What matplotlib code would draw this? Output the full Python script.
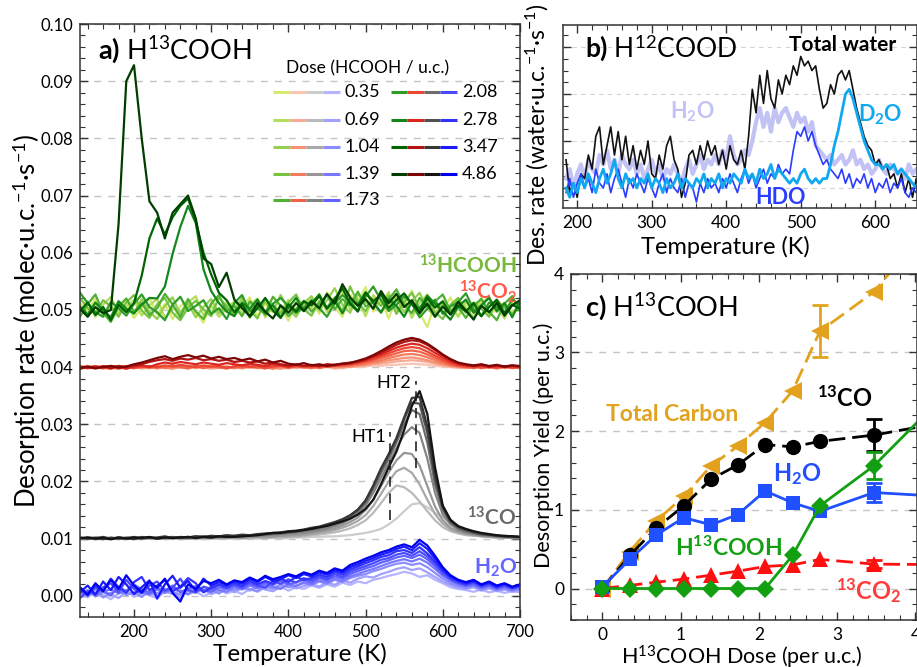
import numpy as np
import matplotlib
matplotlib.use("Agg")
import matplotlib.pyplot as plt
from matplotlib.ticker import MultipleLocator, FormatStrFormatter

plt.rcParams['font.family'] = ['Lato', 'DejaVu Sans']
plt.rcParams['mathtext.fontset'] = 'custom'
plt.rcParams['mathtext.rm'] = 'Lato'
plt.rcParams['mathtext.it'] = 'Lato:italic'
plt.rcParams['mathtext.bf'] = 'Lato:bold'

# ---------------- panel a: TPD traces, 130..700 K every 10 K, values in 1e-4 molec/u.c./s (offsets included)
doses = ["0.35", "0.69", "1.04", "1.39", "1.73", "2.08", "2.78", "3.47", "4.86"]

hcooh_a = [
    [512, 498, 520, 489, 507, 495, 516, 486, 503, 521, 492, 510, 484, 506, 518, 495, 478, 509, 497, 515,
     490, 503, 522, 487, 511, 496, 505, 481, 514, 499, 520, 493, 531, 505, 488, 526, 512, 540, 497, 518,
     485, 523, 508, 534, 495, 470, 512, 499, 522, 487, 508, 495, 516, 490, 503, 512, 497, 505],
    [497, 515, 488, 509, 523, 494, 505, 517, 490, 508, 519, 486, 502, 496, 513, 524, 491, 507, 488, 502,
     515, 494, 509, 520, 487, 505, 498, 517, 492, 511, 503, 528, 496, 515, 534, 501, 520, 489, 526, 510,
     531, 498, 519, 486, 512, 527, 494, 516, 503, 489, 514, 499, 521, 493, 508, 485, 512, 500],
    [505, 489, 512, 496, 484, 515, 501, 493, 519, 497, 484, 507, 522, 493, 511, 487, 505, 519, 494, 510,
     498, 521, 486, 505, 513, 497, 526, 502, 488, 512, 524, 499, 517, 538, 509, 495, 528, 514, 503, 532,
     507, 521, 496, 515, 530, 503, 488, 511, 494, 519, 502, 487, 510, 523, 496, 507, 491, 512],
    [521, 503, 494, 517, 506, 488, 513, 526, 499, 486, 510, 521, 495, 482, 504, 516, 501, 489, 522, 506,
     491, 512, 500, 485, 519, 508, 494, 513, 527, 501, 490, 516, 505, 522, 497, 541, 512, 498, 519, 507,
     525, 493, 514, 530, 502, 517, 496, 484, 509, 521, 495, 513, 502, 488, 517, 504, 493, 506],
    [488, 510, 527, 495, 479, 506, 520, 497, 512, 491, 503, 528, 510, 487, 519, 497, 484, 511, 526, 498,
     507, 489, 515, 502, 494, 523, 507, 489, 502, 516, 497, 511, 526, 501, 519, 508, 532, 506, 513, 495,
     518, 536, 509, 494, 521, 506, 515, 527, 498, 505, 486, 508, 519, 497, 482, 511, 524, 498],
    [530, 512, 496, 488, 514, 503, 490, 511, 527, 505, 496, 482, 509, 523, 498, 507, 517, 493, 503, 484,
     512, 526, 497, 509, 492, 511, 521, 506, 495, 504, 517, 503, 488, 512, 526, 514, 499, 523, 541, 517,
     498, 509, 524, 511, 487, 502, 518, 493, 506, 514, 529, 501, 489, 513, 505, 496, 518, 509],
    [506, 492, 513, 499, 487, 515, 502, 494, 509, 521, 520, 541, 598, 645, 682, 652, 571, 533, 512, 497,
     489, 513, 502, 518, 496, 509, 487, 504, 521, 498, 512, 527, 503, 516, 494, 520, 509, 531, 512, 496,
     519, 507, 488, 514, 502, 525, 511, 497, 483, 506, 518, 495, 508, 521, 498, 512, 487, 515],
    [498, 513, 491, 505, 482, 509, 496, 512, 560, 625, 660, 632, 662, 682, 695, 655, 600, 562, 530, 517,
     496, 510, 488, 503, 521, 499, 486, 510, 497, 515, 508, 524, 502, 519, 538, 511, 497, 530, 515, 527,
     503, 517, 529, 510, 496, 521, 504, 515, 492, 508, 497, 512, 489, 505, 518, 494, 509, 502],
    [502, 488, 505, 494, 500, 650, 900, 928, 800, 690, 670, 625, 670, 685, 700, 660, 590, 580, 540, 565,
     518, 503, 489, 512, 497, 485, 508, 495, 512, 498, 515, 503, 528, 511, 545, 522, 507, 519, 502, 533,
     512, 528, 505, 517, 494, 511, 488, 506, 492, 514, 499, 483, 507, 496, 512, 490, 508, 517],
]

co2_a = [
    [398, 401, 397, 400, 402, 398, 399, 401, 397, 400, 399, 402, 398, 400, 397, 401, 399, 398, 402, 399,
     400, 397, 401, 399, 402, 398, 400, 397, 401, 399, 398, 401, 400, 397, 399, 402, 400, 401, 403, 402,
     404, 404, 405, 406, 405, 404, 402, 401, 400, 398, 399, 401, 398, 400, 397, 399, 401, 398],
    [401, 398, 400, 397, 401, 399, 402, 398, 400, 401, 397, 400, 402, 399, 398, 401, 400, 397, 399, 402,
     398, 401, 399, 400, 397, 402, 399, 401, 398, 400, 401, 399, 402, 400, 398, 401, 402, 403, 405, 406,
     408, 410, 411, 412, 411, 409, 406, 403, 401, 400, 398, 400, 401, 399, 402, 398, 400, 399],
    [399, 402, 398, 401, 399, 397, 400, 402, 399, 398, 401, 399, 397, 400, 402, 398, 401, 399, 400, 397,
     402, 399, 400, 398, 401, 399, 397, 400, 402, 399, 400, 398, 401, 399, 402, 400, 403, 404, 407, 409,
     412, 414, 416, 417, 415, 412, 408, 405, 402, 401, 399, 401, 398, 400, 399, 401, 398, 400],
    [402, 399, 401, 398, 400, 402, 398, 400, 401, 399, 402, 398, 400, 401, 399, 402, 398, 401, 399, 400,
     398, 401, 402, 399, 400, 397, 401, 399, 402, 400, 398, 401, 400, 402, 401, 403, 404, 406, 409, 412,
     416, 419, 422, 423, 421, 417, 412, 407, 403, 401, 400, 398, 401, 399, 402, 399, 400, 398],
    [398, 400, 402, 399, 397, 401, 400, 398, 402, 400, 399, 401, 403, 400, 398, 402, 399, 401, 400, 398,
     401, 399, 402, 400, 398, 401, 402, 399, 401, 400, 402, 399, 401, 403, 402, 404, 406, 409, 412, 416,
     420, 424, 428, 429, 427, 422, 416, 410, 405, 402, 401, 399, 402, 400, 398, 401, 399, 401],
    [401, 399, 398, 402, 400, 398, 401, 399, 400, 402, 400, 403, 401, 404, 402, 400, 403, 401, 402, 399,
     401, 403, 400, 402, 399, 401, 403, 400, 402, 401, 400, 403, 401, 402, 404, 405, 407, 410, 414, 419,
     424, 429, 433, 435, 433, 427, 420, 413, 407, 403, 401, 402, 399, 401, 400, 402, 399, 400],
    [400, 398, 401, 399, 402, 400, 397, 401, 403, 400, 405, 408, 406, 409, 407, 405, 408, 406, 404, 407,
     405, 403, 406, 404, 402, 405, 403, 401, 404, 402, 403, 401, 404, 403, 405, 406, 409, 412, 417, 422,
     428, 434, 438, 441, 439, 433, 425, 417, 410, 405, 403, 401, 403, 400, 402, 401, 403, 400],
    [397, 400, 399, 401, 398, 402, 400, 403, 405, 409, 412, 414, 411, 415, 413, 416, 412, 414, 411, 413,
     409, 411, 408, 410, 406, 408, 405, 403, 405, 402, 404, 402, 405, 404, 406, 408, 410, 414, 419, 425,
     432, 439, 444, 447, 445, 439, 430, 421, 413, 407, 404, 402, 404, 401, 403, 400, 402, 401],
    [399, 401, 398, 400, 402, 399, 401, 405, 408, 412, 416, 419, 414, 418, 421, 417, 420, 415, 418, 414,
     416, 412, 415, 410, 413, 408, 411, 406, 404, 407, 403, 405, 402, 404, 406, 407, 411, 415, 421, 428,
     436, 443, 448, 451, 448, 441, 432, 422, 414, 408, 405, 403, 405, 402, 404, 401, 403, 402],
]

co_a = [
    [100, 99, 101, 100, 99, 100, 101, 99, 100, 100, 101, 99, 100, 100, 101, 100, 99, 100, 101, 100,
     100, 101, 100, 100, 101, 101, 100, 101, 102, 102, 103, 103, 104, 104, 105, 106, 108, 110, 113, 117,
     125, 135, 148, 160, 162, 155, 145, 137, 127, 119, 113, 109, 106, 104, 103, 102, 101, 101],
    [101, 100, 99, 100, 101, 100, 99, 101, 100, 101, 100, 100, 101, 99, 100, 101, 100, 101, 100, 101,
     101, 100, 101, 102, 101, 102, 102, 103, 103, 104, 106, 107, 109, 111, 114, 118, 124, 132, 145, 162,
     180, 193, 190, 180, 165, 148, 132, 120, 113, 109, 106, 105, 104, 103, 102, 102, 101, 101],
    [100, 101, 100, 99, 101, 100, 101, 100, 99, 101, 100, 101, 100, 101, 101, 100, 102, 101, 101, 102,
     102, 101, 102, 103, 102, 103, 104, 104, 105, 106, 108, 110, 112, 115, 119, 124, 131, 141, 157, 178,
     200, 218, 224, 215, 195, 168, 143, 126, 116, 111, 108, 106, 104, 103, 102, 102, 101, 101],
    [101, 100, 101, 100, 99, 101, 100, 102, 100, 101, 101, 100, 102, 101, 100, 102, 101, 102, 102, 101,
     103, 102, 103, 103, 104, 104, 105, 106, 107, 108, 110, 112, 115, 118, 123, 129, 137, 150, 168, 192,
     216, 237, 250, 248, 228, 192, 156, 132, 119, 113, 109, 107, 105, 104, 103, 102, 102, 101],
    [100, 101, 99, 101, 100, 102, 100, 101, 100, 102, 101, 102, 101, 102, 103, 102, 103, 102, 103, 104,
     103, 104, 105, 105, 106, 107, 108, 109, 110, 111, 113, 115, 118, 122, 127, 134, 144, 158, 180, 206,
     232, 258, 282, 295, 285, 240, 180, 142, 125, 116, 111, 108, 106, 105, 104, 103, 102, 102],
    [101, 100, 102, 100, 101, 99, 102, 101, 100, 102, 101, 103, 102, 101, 103, 102, 104, 103, 104, 103,
     105, 104, 106, 106, 107, 108, 109, 110, 112, 114, 116, 118, 122, 126, 131, 138, 148, 163, 187, 215,
     240, 268, 300, 325, 318, 268, 195, 150, 128, 118, 113, 110, 107, 106, 105, 104, 103, 102],
    [100, 102, 101, 99, 102, 100, 101, 103, 101, 102, 100, 102, 103, 101, 102, 104, 103, 102, 104, 105,
     104, 106, 105, 107, 108, 109, 110, 112, 113, 115, 118, 120, 124, 128, 133, 140, 150, 166, 191, 220,
     246, 274, 309, 338, 336, 285, 205, 154, 130, 120, 115, 111, 108, 107, 105, 104, 104, 103],
    [102, 100, 101, 103, 100, 102, 101, 99, 103, 101, 102, 104, 101, 103, 102, 104, 103, 105, 104, 106,
     105, 107, 106, 108, 109, 110, 111, 113, 114, 116, 119, 121, 125, 129, 134, 141, 151, 167, 193, 223,
     248, 276, 312, 346, 348, 296, 210, 156, 132, 121, 116, 112, 109, 107, 105, 104, 104, 103],
    [101, 102, 100, 101, 99, 102, 100, 102, 101, 103, 100, 102, 101, 102, 103, 101, 103, 102, 104, 103,
     103, 104, 105, 106, 108, 110, 110, 112, 113, 115, 117, 120, 122, 126, 130, 135, 142, 152, 168, 195,
     225, 252, 290, 332, 358, 318, 225, 158, 133, 122, 117, 113, 110, 108, 106, 105, 104, 103],
]

h2o_a = [
    [5, -3, 8, 2, -6, 4, 10, -2, 6, 1, -4, 7, 3, 10, 2, 8, -1, 6, 11, 4,
     9, 3, 12, 7, 14, 10, 16, 9, 15, 12, 18, 14, 20, 16, 23, 19, 25, 22, 28, 31,
     35, 38, 42, 39, 33, 36, 28, 22, 15, 12, 10, 7, 11, 6, 9, 5, 8, 6],
    [-2, 6, 1, 9, 3, -4, 7, 2, 11, 5, 0, 8, 4, -3, 9, 5, 12, 3, 8, 13,
     6, 14, 9, 16, 11, 8, 15, 19, 13, 17, 21, 16, 24, 19, 27, 23, 30, 34, 32, 38,
     42, 47, 50, 45, 48, 41, 33, 25, 19, 14, 12, 15, 9, 13, 8, 11, 7, 10],
    [8, 2, 12, -3, 5, 10, 1, 7, -2, 9, 4, 12, 6, 2, 10, 15, 7, 11, 4, 13,
     10, 16, 12, 8, 17, 13, 20, 15, 18, 22, 19, 25, 21, 28, 24, 31, 35, 38, 43, 47,
     52, 56, 58, 54, 57, 50, 40, 30, 22, 17, 14, 18, 11, 15, 10, 13, 9, 12],
    [3, 10, -1, 7, 12, 4, 9, 15, 6, 2, 11, 5, 14, 8, 3, 12, 9, 16, 10, 7,
     15, 11, 18, 13, 20, 16, 12, 21, 17, 24, 20, 27, 23, 30, 26, 34, 38, 43, 47, 52,
     57, 61, 64, 60, 65, 58, 47, 35, 26, 20, 16, 19, 13, 17, 11, 15, 10, 14],
    [10, 4, 14, 7, 1, 16, 8, 20, 11, 5, 14, 9, 18, 6, 13, 17, 10, 7, 15, 12,
     18, 13, 21, 16, 23, 19, 26, 20, 24, 28, 23, 31, 27, 34, 30, 38, 43, 48, 52, 58,
     62, 67, 70, 66, 72, 64, 52, 38, 28, 22, 18, 21, 15, 19, 13, 17, 12, 16],
    [-4, 8, 3, 15, 22, 6, 28, 12, 4, 18, 25, 9, 14, 30, 10, 6, 16, 12, 19, 14,
     20, 15, 24, 18, 14, 26, 21, 29, 23, 31, 27, 34, 29, 38, 33, 42, 47, 52, 57, 63,
     66, 72, 75, 70, 78, 69, 56, 41, 30, 23, 19, 23, 16, 20, 14, 18, 13, 17],
    [12, 0, 17, 9, 30, 15, 5, 24, 33, 10, 18, 27, 8, 16, 31, 22, 6, 14, 20, 16,
     23, 17, 27, 20, 26, 21, 30, 24, 33, 28, 31, 37, 33, 42, 37, 46, 51, 57, 62, 68,
     71, 78, 80, 75, 85, 74, 60, 44, 32, 25, 21, 25, 18, 22, 15, 20, 14, 18],
    [6, 18, 2, 25, 10, 33, 20, 3, 15, 27, -5, 20, 35, 14, 26, 9, 30, 18, 24, 19,
     26, 21, 30, 24, 33, 26, 29, 36, 31, 38, 34, 41, 37, 45, 41, 50, 55, 61, 66, 72,
     76, 82, 86, 80, 92, 82, 65, 47, 34, 27, 22, 26, 19, 24, 17, 21, 15, 19],
    [15, 2, 22, 8, 28, 12, 36, 18, 6, 25, 14, 30, 5, -10, 20, 12, 26, 22, 28, 20,
     27, 24, 32, 26, 35, 29, 33, 38, 34, 41, 37, 44, 40, 48, 44, 54, 59, 65, 70, 76,
     80, 86, 90, 85, 98, 88, 70, 50, 36, 28, 24, 28, 20, 25, 18, 22, 16, 20],
]

hcooh_colors = ['#d8ea6c', '#b4dc5e', '#96d050', '#78c242', '#4fb034', '#2e9c26', '#14861a', '#006400', '#003e00']
co2_colors = ['#f9c4b4', '#f8ab94', '#f79276', '#f47a5c', '#f06246', '#ec4634', '#dc2620', '#b01414', '#7c0606']
co_colors = ['#cccccc', '#bababa', '#a8a8a8', '#979797', '#848484', '#6c6c6c', '#525252', '#383838', '#141414']
h2o_colors = ['#b4b4ff', '#a0a0ff', '#8c8cff', '#7777ff', '#6262ff', '#4a4aff', '#3232ff', '#1a1aff', '#0000f0']

# ---------------- panel b: H12COOD water channels, 185..665 K every 5 K, arbitrary units (x0.1)
total_water_b = [16, 9, 11, 8, 13, 12, 17, 14, 21, 23, 15, 19, 23, 17, 22, 16, 21, 15, 19, 14,
                 18, 15, 20, 13, 12, 17, 14, 19, 21, 16, 14, 8, 11, 17, 18, 15, 19, 16, 20, 17,
                 19, 15, 18, 14, 19, 16, 15, 18, 14, 21, 31, 26, 34, 28, 35, 29, 27, 33, 30, 34,
                 32, 36, 34, 38, 36, 37, 35, 36, 31, 27, 28, 32, 30, 34, 35, 33, 35, 31, 27, 24,
                 21, 19, 18, 15, 16, 14, 15, 12, 13, 10, 13, 9, 12, 8, 12, 9, 10]
h2o_b = [12, 14, 10, 13, 15, 12, 16, 14, 13, 17, 15, 18, 14, 16, 13, 17, 15, 14, 16, 13,
         15, 12, 14, 16, 13, 15, 12, 14, 13, 15, 13, 11, 14, 16, 13, 15, 17, 14, 16, 15,
         17, 15, 18, 16, 21, 17, 15, 16, 18, 17, 20, 24, 27, 23, 26, 22, 27, 24, 26, 27,
         25, 23, 26, 24, 25, 22, 24, 19, 18, 17, 16, 17, 15, 16, 17, 15, 16, 18, 15, 16,
         14, 15, 13, 14, 16, 14, 13, 15, 14, 13, 14, 12, 15, 13, 14, 12, 13]
hdo_b = [9, 12, 8, 11, 13, 10, 12, 9, 14, 11, 10, 13, 9, 12, 14, 11, 8, 12, 10, 13,
         11, 9, 12, 10, 8, 11, 13, 9, 12, 10, 9, 12, 8, 11, 10, 7, 11, 9, 12, 10,
         11, 9, 12, 10, 13, 11, 9, 12, 14, 11, 13, 10, 12, 14, 11, 13, 12, 15, 13, 14,
         13, 18, 22, 21, 23, 20, 22, 19, 17, 15, 16, 14, 13, 12, 14, 11, 13, 10, 12, 11,
         13, 10, 12, 9, 11, 10, 12, 9, 11, 10, 12, 9, 8, 10, 9, 11, 8]
d2o_b = [10, 8, 11, 9, 12, 10, 13, 11, 9, 12, 14, 11, 13, 16, 12, 10, 13, 11, 12, 10,
         12, 11, 13, 10, 12, 11, 9, 12, 10, 11, 13, 10, 12, 11, 10, 12, 11, 13, 10, 12,
         11, 13, 10, 12, 11, 13, 12, 11, 14, 12, 13, 11, 14, 12, 13, 15, 12, 14, 13, 12,
         11, 12, 11, 13, 14, 12, 11, 12, 11, 12, 12, 15, 19, 22, 26, 30, 31, 29, 26, 23,
         20, 18, 16, 15, 15, 14, 15, 14, 15, 13, 14, 13, 12, 11, 10, 11, 12]

# ---------------- panel c: desorption yields vs dose
dose_c = [0, 0.35, 0.69, 1.04, 1.39, 1.73, 2.08, 2.43, 2.78, 3.47, 4.86]
total_carbon = [0, 0.47, 0.86, 1.17, 1.56, 1.81, 2.11, 2.51, 3.27, 3.77, 5.45]
co_yield = [0, 0.42, 0.77, 1.05, 1.39, 1.57, 1.83, 1.80, 1.87, 1.95, 2.20]
h2o_yield = [0.02, 0.37, 0.68, 0.90, 0.81, 0.94, 1.24, 1.09, 0.98, 1.22, 1.14]
hcooh_yield = [0, 0, 0, 0, 0, 0, 0, 0.42, 1.05, 1.56, 2.95]
co2_yield = [0, 0.04, 0.08, 0.12, 0.17, 0.22, 0.28, 0.30, 0.37, 0.31, 0.30]
total_carbon_err = [0, 0, 0, 0, 0, 0, 0, 0, 0.33, 0, 0]
co_err = [0, 0, 0, 0, 0, 0, 0, 0, 0, 0.20, 0]
h2o_err = [0, 0, 0, 0, 0, 0, 0, 0, 0, 0.12, 0]
hcooh_err = [0, 0, 0, 0, 0, 0, 0, 0, 0, 0.17, 0]
co2_err = [0, 0, 0, 0, 0, 0, 0, 0, 0, 0.05, 0]


def style_axes(ax, xmaj, xmin, ymaj, ymin, fs):
    ax.xaxis.set_major_locator(MultipleLocator(xmaj))
    ax.xaxis.set_minor_locator(MultipleLocator(xmin))
    ax.yaxis.set_major_locator(MultipleLocator(ymaj))
    ax.yaxis.set_minor_locator(MultipleLocator(ymin))
    ax.tick_params(which='both', top=True, right=True, direction='in', color='#333333')
    ax.tick_params(which='major', length=6, width=1, labelsize=fs, pad=5)
    ax.tick_params(which='minor', length=3.5, width=0.8)
    for s in ax.spines.values():
        s.set_color('#333333')
        s.set_linewidth(1.1)
    ax.yaxis.grid(True, which='major', linestyle=(0, (5, 5)), color='#c4c4c4', lw=1)
    ax.set_axisbelow(True)


fig = plt.figure(figsize=(9.17, 6.67), dpi=100)

# ================= panel a
ax = fig.add_axes([0.0872, 0.075, 0.4798, 0.889])
T_a = 130 + 10 * np.arange(len(hcooh_a[0]))
for i in range(len(doses)):
    ax.plot(T_a, np.array(h2o_a[i]) * 1e-4, color=h2o_colors[i], lw=1.6)
    ax.plot(T_a, np.array(co_a[i]) * 1e-4, color=co_colors[i], lw=1.6)
    ax.plot(T_a, np.array(co2_a[i]) * 1e-4, color=co2_colors[i], lw=1.6)
    ax.plot(T_a, np.array(hcooh_a[i]) * 1e-4, color=hcooh_colors[i], lw=1.6)

ax.set_xlim(130, 700)
ax.set_ylim(-0.0037, 0.100)
style_axes(ax, 100, 20, 0.01, 0.002, 12)
ax.yaxis.set_major_formatter(FormatStrFormatter('%.2f'))
ax.set_xlabel('Temperature (K)', fontsize=17.5)
ax.set_ylabel('Desorption rate (molec·u.c.$^{-1}$·s$^{-1}$)', fontsize=18.5)
ax.xaxis.set_label_coords(0.5, -0.043)
ax.yaxis.set_label_coords(-0.085, 0.5)

ax.text(0.041, 0.956, r'$\mathbf{a)}$ H$^{13}$COOH', transform=ax.transAxes, fontsize=19.5, va='center')
ax.text(0.993, 0.592, r'$^{\mathbf{13}}$HCOOH', transform=ax.transAxes, fontsize=15, fontweight='bold',
        color='#78b83c', ha='right', va='center')
ax.text(0.993, 0.548, r'$^{\mathbf{13}}$CO$_{\mathbf{2}}$', transform=ax.transAxes, fontsize=15,
        fontweight='bold', color='#ff5a48', ha='right', va='center')
ax.text(0.993, 0.167, r'$^{\mathbf{13}}$CO', transform=ax.transAxes, fontsize=15, fontweight='bold',
        color='#6a6a6a', ha='right', va='center')
ax.text(0.993, 0.083, r'H$_{\mathbf{2}}$O', transform=ax.transAxes, fontsize=15, fontweight='bold',
        color='#6464ff', ha='right', va='center')

# HT1 / HT2 markers
ax.plot([532, 532], [0.0133, 0.0287], color='#222222', lw=1.2, ls=(0, (6, 4)))
ax.plot([565, 565], [0.0224, 0.0375], color='#222222', lw=1.2, ls=(0, (6, 4)))
ax.text(526, 0.0278, 'HT1', fontsize=13, ha='right', va='center')
ax.text(559, 0.0372, 'HT2', fontsize=13, ha='right', va='center')

# dose legend (four-colour segments per dose)
ax.text(0.6545, 0.926, 'Dose (HCOOH / u.c.)', transform=ax.transAxes, fontsize=12.5, ha='center', va='center')
leg_cols = [(0.4386, 0.6023), (0.7068, 0.8682)]
leg_rows = [0.8853, 0.8381, 0.7926, 0.7470, 0.7032]
for i, d in enumerate(doses):
    col = 0 if i < 5 else 1
    row = i if i < 5 else i - 5
    x0, xt = leg_cols[col]
    y = leg_rows[row]
    seg = (xt - 0.0114 - x0) / 4
    for k, c in enumerate([hcooh_colors[i], co2_colors[i], co_colors[i], h2o_colors[i]]):
        ax.plot([x0 + k * seg, x0 + (k + 1) * seg], [y, y], color=c, lw=2.2,
                transform=ax.transAxes, solid_capstyle='butt')
    ax.text(xt, y, d, transform=ax.transAxes, fontsize=13, ha='left', va='center')

# ================= panel b
axb = fig.add_axes([0.614, 0.688, 0.386, 0.2745])
T_b = 185 + 5 * np.arange(len(total_water_b))
axb.plot(T_b, np.array(h2o_b) * 0.1, color='#c2c2f4', lw=3)
axb.plot(T_b, np.array(total_water_b) * 0.1, color='#111111', lw=1.2)
axb.plot(T_b, np.array(hdo_b) * 0.1, color='#2a3cff', lw=1.2)
axb.plot(T_b, np.array(d2o_b) * 0.1, color='#10a8f0', lw=2)
axb.set_xlim(181, 656)
axb.set_ylim(0.57, 4.47)
style_axes(axb, 100, 20, 1, 0.25, 12.5)
axb.yaxis.grid(True, which='major', linestyle=(0, (4, 4)), color='#d4d4d4', lw=0.8)
axb.tick_params(labelleft=False)
axb.set_xlabel('Temperature (K)', fontsize=17)
axb.set_ylabel('Des. rate (water·u.c.$^{-1}$·s$^{-1}$)', fontsize=16.5)
axb.xaxis.set_label_coords(0.458, -0.15)
axb.yaxis.set_label_coords(-0.035, 0.40)
axb.text(0.062, 0.874, r'$\mathbf{b)}$ H$^{12}$COOD', transform=axb.transAxes, fontsize=19, va='center')
axb.text(0.94, 0.89, 'Total water', transform=axb.transAxes, fontsize=15, fontweight='bold',
         ha='right', va='center')
axb.text(0.364, 0.525, r'H$_{\mathbf{2}}$O', transform=axb.transAxes, fontsize=15.5, fontweight='bold',
         color='#c2c2f4', ha='center', va='center')
axb.text(0.895, 0.508, r'D$_{\mathbf{2}}$O', transform=axb.transAxes, fontsize=15.5, fontweight='bold',
         color='#10a8f0', ha='center', va='center')
axb.text(0.613, 0.06, 'HDO', transform=axb.transAxes, fontsize=15.5, fontweight='bold',
         color='#2a3cff', ha='center', va='center')

# ================= panel c
axc = fig.add_axes([0.6227, 0.0705, 0.3773, 0.519])
series = [
    (total_carbon, total_carbon_err, '#e2a21e', '<', 12.5, (0, (6, 2.5))),
    (co_yield, co_err, '#000000', 'o', 11, (0, (6, 2.5))),
    (co2_yield, co2_err, '#ff1010', '^', 12, (0, (6, 2.5))),
    (h2o_yield, h2o_err, '#2050ff', 's', 10, '-'),
    (hcooh_yield, hcooh_err, '#12a012', 'D', 9.5, '-'),
]
for yv, err, c, m, ms, ls in series:
    axc.plot(dose_c, yv, color=c, lw=2, ls=ls, marker=m, ms=ms, mew=0)
    e = np.array(err)
    sel = e > 0
    axc.errorbar(np.array(dose_c)[sel], np.array(yv)[sel], yerr=e[sel], fmt='none',
                 ecolor=c, elinewidth=2, capsize=6, capthick=2)
axc.set_xlim(-0.4, 4.02)
axc.set_ylim(-0.4, 4.0)
style_axes(axc, 1, 0.2, 1, 0.2, 12.5)
axc.set_xlabel('H$^{13}$COOH Dose (per u.c.)', fontsize=15.5)
axc.set_ylabel('Desorption Yield (per u.c.)', fontsize=15.5)
axc.xaxis.set_label_coords(0.494, -0.068)
axc.yaxis.set_label_coords(-0.05, 0.506)
axc.text(0.04, 0.902, r'$\mathbf{c)}$ H$^{13}$COOH', transform=axc.transAxes, fontsize=19.5, va='center')
axc.text(0.894, 2.21, 'Total Carbon', fontsize=16.5, fontweight='bold', color='#e2a21e', ha='center', va='center')
axc.text(3.10, 2.43, r'$^{\mathbf{13}}$CO', fontsize=17, fontweight='bold', color='#000000', ha='center', va='center')
axc.text(2.49, 1.45, r'H$_{\mathbf{2}}$O', fontsize=17, fontweight='bold', color='#2050ff', ha='center', va='center')
axc.text(1.61, 0.52, r'H$^{\mathbf{13}}$COOH', fontsize=16.5, fontweight='bold', color='#12a012', ha='center', va='center')
axc.text(3.40, -0.03, r'$^{\mathbf{13}}$CO$_{\mathbf{2}}$', fontsize=17, fontweight='bold', color='#ff3c3c',
         ha='center', va='center')

fig.savefig('out.png', dpi=100)
